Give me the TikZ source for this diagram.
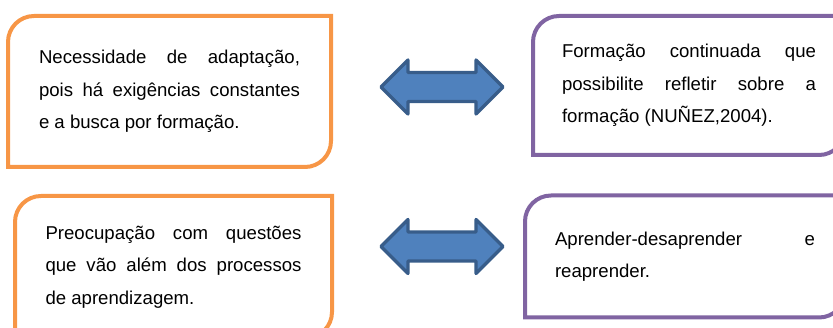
\documentclass[tikz,border=0pt]{standalone}
\usepackage{fontspec}
\setmainfont{Liberation Sans}
\usepackage{tikz}
\usetikzlibrary{calc}
\definecolor{boxorange}{HTML}{F79646}
\definecolor{boxpurple}{HTML}{8064A2}
\definecolor{arrowblue}{HTML}{4F81BD}
\definecolor{arrowedge}{HTML}{385D8A}
\hyphenpenalty=10000
\exhyphenpenalty=10000
\tolerance=10000
\hbadness=10000
\setlength{\parindent}{0pt}

\tikzset{
  textcard/.style={inner sep=0pt, outer sep=0pt, align=justify, font=\fontsize{18.6}{32.5}\selectfont},
  dblarrow/.pic={
    \draw[line width=3.3pt, draw=arrowedge, fill=arrowblue, line join=round]
      (-61,0) -- (-34,-27) -- (-34,-14.5) -- (34,-14.5) -- (34,-27) -- (61,0)
      -- (34,27) -- (34,14.5) -- (-34,14.5) -- (-34,27) -- cycle;
  }
}
\newcommand{\cardframe}[2]{%
  \draw[line width=4pt, draw=#2, line join=miter]
    (#1.north east) -- ([xshift=26pt]#1.north west)
    arc[start angle=90, end angle=180, radius=26pt]
    -- (#1.south west) -- ([xshift=-26pt]#1.south east)
    arc[start angle=270, end angle=360, radius=26pt] -- cycle;}

\begin{document}
\begin{tikzpicture}[x=1pt, y=-1pt]
\useasboundingbox (0,0) rectangle (833,328);

\node[textcard, text width=261pt, minimum width=323pt, minimum height=151pt] (necess) at (169.5,91.5)
  {Necessidade de adaptação,\linebreak pois há exigências constantes\linebreak e a busca por formação.};
\node[textcard, text width=254pt, minimum width=312pt, minimum height=139pt] (formac) at (689,85.5)
  {Formação continuada que\linebreak possibilite refletir sobre a\linebreak formação (NUÑEZ,2004).};
\node[textcard, text width=256pt, minimum width=317pt, minimum height=142pt] (preocu) at (173.5,267)
  {Preocupação com questões\linebreak que vão além dos processos\linebreak de aprendizagem.};
\node[textcard, text width=260pt, minimum width=320pt, minimum height=122pt] (aprend) at (685,256.5)
  {Aprender-desaprender e\linebreak reaprender.};

\cardframe{necess}{boxorange}
\cardframe{formac}{boxpurple}
\cardframe{preocu}{boxorange}
\cardframe{aprend}{boxpurple}

\pic at (442,87) {dblarrow};
\pic at (442,246.5) {dblarrow};
\end{tikzpicture}
\end{document}
